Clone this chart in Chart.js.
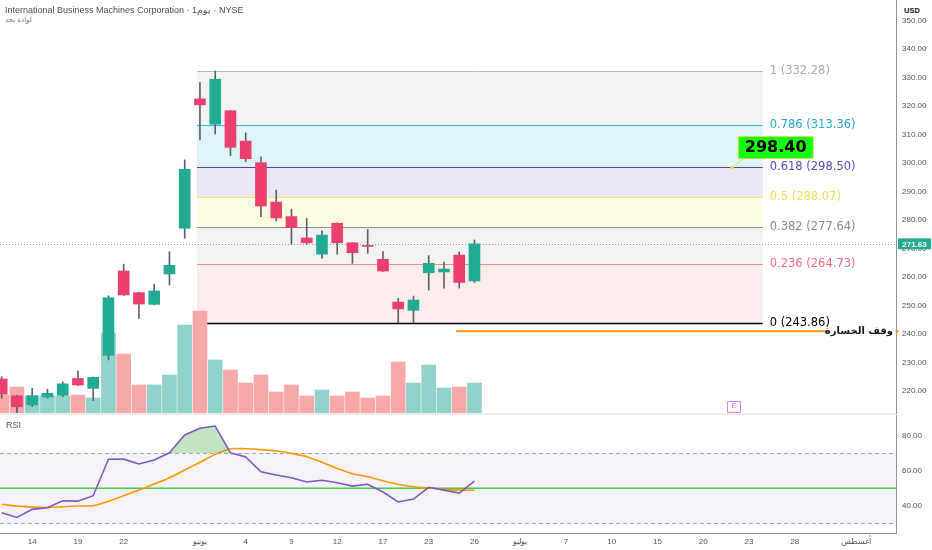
<!DOCTYPE html>
<html>
<head>
<meta charset="utf-8">
<script src="https://cdn.jsdelivr.net/npm/chart.js@4.4.1/dist/chart.umd.min.js"></script>
<style>
  body { margin: 0; background: #fff; font-family: "Liberation Sans", Arial, sans-serif; }
  #wrap { position: relative; width: 932px; height: 550px; overflow: hidden; }
  #main { position: absolute; left: 0; top: 0; }
  #rsi { position: absolute; left: 0; top: 415px; }
  .title { position: absolute; left: 5px; top: 5px; font-size: 9px; color: #4a4e5a; white-space: nowrap; }
  .sub { position: absolute; left: 5px; top: 16px; font-size: 7px; color: #777; font-family: "DejaVu Sans"; }
  .usd { position: absolute; left: 897px; top: 0; width: 35px; height: 18px; background: #fff; font-size: 7.5px; font-weight: bold; color: #131722; line-height: 22px; padding-left: 7px; box-sizing: border-box; }
  .sep { position: absolute; left: 0; top: 413px; width: 896px; height: 2px; background: #eceef2; }
  .rsiLabel { position: absolute; left: 6px; top: 420px; font-size: 9px; color: #555; }
</style>
</head>
<body>
<div id="wrap">
  <canvas id="main" width="932" height="414"></canvas>
  <canvas id="rsi" width="932" height="135"></canvas>
  <div class="sep"></div>
  <div class="title">International Business Machines Corporation · 1يوم · NYSE</div>
  <div class="sub">لوادة يجد</div>
  <div class="usd">USD</div>
  <div class="rsiLabel">RSI</div>
</div>
<script>
// daily candles, index 0 = first visible bar
const opens  = [224.2, 218.3, 215.1, 217.9, 218.5, 224.4, 220.9, 232.5, 262.1, 254.5, 250.4, 261.05, 277.1, 322.5, 313.6, 318.35,
                307.7, 300.1, 286.3, 281.2, 273.7, 268.0, 278.85, 272.0, 270.9, 266.2, 251.2, 248.3, 261.5, 261.75, 267.7, 258.6];
const highs  = [225.0, 218.6, 220.9, 220.6, 223.2, 227.1, 224.9, 253.4, 264.5, 254.6, 257.5, 268.9, 301.1, 328.2, 332.28, 318.4,
                310.6, 302.2, 290.5, 283.8, 280.5, 276.2, 279.0, 272.1, 276.7, 268.9, 252.5, 253.3, 267.5, 265.2, 268.8, 273.0];
const lows   = [217.5, 212.3, 214.5, 217.5, 218.0, 222.0, 216.6, 230.9, 253.5, 245.5, 250.3, 257.2, 273.6, 308.1, 310.2, 302.6,
                300.5, 281.2, 279.7, 271.5, 271.5, 266.6, 268.0, 264.8, 268.3, 262.0, 243.86, 243.9, 255.4, 256.1, 256.1, 258.1];
const closes = [218.9, 214.5, 218.35, 219.2, 222.5, 222.1, 224.8, 252.7, 253.7, 250.5, 255.1, 264.1, 297.8, 320.4, 329.4, 305.5,
                301.5, 284.9, 280.7, 277.3, 272.0, 274.7, 272.0, 268.5, 270.7, 262.1, 248.8, 251.9, 264.8, 262.8, 258.1, 271.63];
const volumes = [1.9, 2.7, 1.8, 1.8, 1.8, 1.9, 1.6, 8.1, 6.0, 2.9, 2.9, 3.9, 8.9, 10.3, 5.4, 4.4,
                 3.1, 3.9, 2.2, 2.9, 1.8, 2.4, 1.8, 2.2, 1.6, 1.8, 5.2, 3.1, 4.9, 2.6, 2.7, 3.1];
const rsi   = [36.1, 33.4, 38.0, 38.9, 42.9, 42.7, 45.8, 66.6, 66.7, 63.9, 66.2, 70.3, 80.5, 84.3, 85.6, 70.3,
               67.9, 59.5, 57.6, 56.1, 53.6, 54.6, 53.2, 51.3, 52.3, 47.9, 42.2, 43.9, 50.6, 49.0, 47.3, 54.2];
const rsiMa = [40.9, 39.9, 39.3, 39.1, 39.5, 39.9, 40.1, 42.6, 45.8, 49.0, 52.5, 56.1, 60.5, 64.9, 69.4, 72.6,
               72.6, 72.1, 71.3, 70.0, 68.1, 64.9, 61.4, 58.3, 56.6, 54.3, 52.3, 50.9, 50.2, 49.4, 49.0, 48.9];

// fibonacci retracement
const fibRatios = [1, 0.786, 0.618, 0.5, 0.382, 0.236, 0];
const fibPrices = [332.28, 313.36, 298.50, 288.07, 277.64, 264.73, 243.86];
const fibFrom = 12.8, fibTo = 49.9;
const stopLoss = 241.0, stopFrom = 29.8, stopTo = 54.3;
const stopText = 'وقف الخسارة';
const calloutPrice = 298.40, calloutIdx = 47.9;
const earningsIdx = 48;

// bottom axis
const dateTickIdx = [2, 5, 8, 13, 16, 19, 22, 25, 28, 31, 34, 37, 40, 43, 46, 49, 52, 56];
const dateTickLabels = ['14', '19', '22', 'يونيو', '4', '9', '12', '17', '23', '26', 'يوليو', '7', '10', '15', '20', '23', '28', 'أغسطس'];

const rsiUpper = 70, rsiMid = 50, rsiLower = 30;

const up = '#22ab94', down = '#eb3f6e';
const fibFills = ['#f3f3f3', '#def4f9', '#ece7f6', '#fffce4', '#f2f2f2', '#fdecec'];
const fibLines = ['#b8b8b8', '#2fbcd6', '#5e3fa6', '#f3e66a', '#8d8d8d', '#f08c8c', '#000000'];
const fibText  = ['#ababab', '#27a9cc', '#6147b3', '#f0df55', '#8a8a8a', '#f06c7c', '#000000'];

const xMin = -0.111, xMax = 58.64;
const idx = opens.map((_, i) => i);
const tickFont = { size: 8, family: 'Liberation Sans' };

const mainOverlay = {
    id: 'mainOverlay',
    beforeDatasetsDraw(chart) {
        const { ctx, scales: { x, y }, chartArea } = chart;
        const xl = x.getPixelForValue(fibFrom), xr = x.getPixelForValue(fibTo);
        ctx.save();
        for (let k = 0; k < fibPrices.length - 1; k++) {
            const y1 = y.getPixelForValue(fibPrices[k]), y2 = y.getPixelForValue(fibPrices[k + 1]);
            ctx.fillStyle = fibFills[k];
            ctx.fillRect(xl, y1, xr - xl, y2 - y1);
        }
        ctx.font = '11.5px "DejaVu Sans"';
        ctx.textBaseline = 'middle';
        ctx.textAlign = 'left';
        fibPrices.forEach((p, k) => {
            const py = Math.round(y.getPixelForValue(p)) + 0.5;
            ctx.strokeStyle = fibLines[k];
            ctx.lineWidth = k === fibPrices.length - 1 ? 1.5 : 1;
            ctx.beginPath(); ctx.moveTo(xl, py); ctx.lineTo(xr, py); ctx.stroke();
            ctx.fillStyle = fibText[k];
            ctx.fillText(`${fibRatios[k]} (${p.toFixed(2)})`, xr + 7, py);
        });

        // last price
        const lp = Math.round(y.getPixelForValue(closes[closes.length - 1])) + 0.5;
        ctx.strokeStyle = '#9598a1';
        ctx.lineWidth = 1;
        ctx.setLineDash([1, 2]);
        ctx.beginPath(); ctx.moveTo(chartArea.left, lp); ctx.lineTo(chartArea.right, lp); ctx.stroke();
        ctx.setLineDash([]);

        // stop loss
        const sy = y.getPixelForValue(stopLoss);
        ctx.strokeStyle = '#ff9800';
        ctx.lineWidth = 2;
        ctx.beginPath(); ctx.moveTo(x.getPixelForValue(stopFrom), sy); ctx.lineTo(x.getPixelForValue(stopTo), sy); ctx.stroke();
        ctx.fillStyle = '#131722';
        ctx.font = 'bold 10px "DejaVu Sans"';
        ctx.textAlign = 'right';
        ctx.fillText(stopText, chartArea.right - 3, sy);
        ctx.restore();
    },
    afterDraw(chart) {
        const { ctx, scales: { x, y }, chartArea } = chart;
        ctx.save();
        // price tag on axis
        const last = closes[closes.length - 1];
        const lp = y.getPixelForValue(last);
        ctx.fillStyle = up;
        ctx.fillRect(chartArea.right + 2, lp - 5.5, 33, 11);
        ctx.fillStyle = '#fff';
        ctx.font = 'bold 8px "Liberation Sans"';
        ctx.textAlign = 'center';
        ctx.textBaseline = 'middle';
        ctx.fillText(last.toFixed(2), chartArea.right + 18.5, lp + 0.5);

        // stop marker on axis
        ctx.fillStyle = '#ff9800';
        ctx.beginPath(); ctx.arc(chartArea.right + 1, y.getPixelForValue(stopLoss), 1.5, 0, Math.PI * 2); ctx.fill();

        // price callout
        const ax = x.getPixelForValue(calloutIdx), ay = y.getPixelForValue(calloutPrice);
        ctx.strokeStyle = '#e3dc4c';
        ctx.lineWidth = 1;
        ctx.beginPath(); ctx.moveTo(ax, ay); ctx.lineTo(ax + 11, ay - 9); ctx.stroke();
        ctx.fillStyle = '#e3dc4c';
        ctx.beginPath(); ctx.arc(ax, ay, 1.8, 0, Math.PI * 2); ctx.fill();
        ctx.fillStyle = '#14ff14';
        ctx.strokeStyle = '#cfe34a';
        ctx.beginPath(); ctx.rect(ax + 6, ay - 31, 75, 22); ctx.fill(); ctx.stroke();
        ctx.fillStyle = '#000';
        ctx.font = 'bold 16px "DejaVu Sans"';
        ctx.fillText(calloutPrice.toFixed(2), ax + 43.5, ay - 19.5);

        // earnings marker
        const ex = x.getPixelForValue(earningsIdx), ey = chartArea.bottom - 8;
        ctx.fillStyle = '#fff';
        ctx.strokeStyle = '#d884ee';
        ctx.beginPath(); ctx.rect(Math.round(ex - 7) + 0.5, Math.round(ey - 5.5) + 0.5, 13, 11); ctx.fill(); ctx.stroke();
        ctx.fillStyle = '#c96fe3';
        ctx.font = '7px "Liberation Sans"';
        ctx.fillText('E', ex, ey + 0.5);
        ctx.restore();
    }
};

new Chart(document.getElementById('main'), {
    type: 'bar',
    data: {
        datasets: [{
            label: 'body',
            data: idx.map(i => ({ x: i, y: [opens[i], closes[i]] })),
            backgroundColor: idx.map(i => closes[i] >= opens[i] ? up : down),
            barThickness: 11,
            minBarLength: 1,
            grouped: false,
            order: 1,
            yAxisID: 'y',
        }, {
            label: 'wick',
            data: idx.map(i => ({ x: i, y: [lows[i], highs[i]] })),
            backgroundColor: '#5d606b',
            barThickness: 1,
            grouped: false,
            order: 2,
            yAxisID: 'y',
        }, {
            label: 'volume',
            data: idx.map(i => ({ x: i, y: volumes[i] })),
            backgroundColor: idx.map(i => closes[i] >= opens[i] ? '#92d2cc' : '#f7a9a8'),
            barThickness: 14,
            grouped: false,
            order: 3,
            yAxisID: 'vol',
        }]
    },
    options: {
        responsive: false,
        animation: false,
        layout: { padding: 0 },
        plugins: {
            legend: { display: false },
            tooltip: { enabled: false },
        },
        scales: {
            x: { type: 'linear', min: xMin, max: xMax, offset: false, display: false },
            y: {
                position: 'right',
                min: 211.93,
                max: 357.19,
                grid: { display: false, drawTicks: false },
                border: { color: '#8f929c' },
                ticks: {
                    stepSize: 10,
                    includeBounds: false,
                    padding: 6,
                    color: '#4f525c',
                    font: tickFont,
                    callback: v => v.toFixed(2),
                },
                afterFit: s => { s.width = 36; s.paddingTop = 0; s.paddingBottom = 0; },
            },
            vol: { display: false, min: 0, max: 41.4 },
        }
    },
    plugins: [mainOverlay]
});

const rsiOverlay = {
    id: 'rsiOverlay',
    beforeDatasetsDraw(chart) {
        const { ctx, scales: { y }, chartArea: { left, right } } = chart;
        const yU = Math.round(y.getPixelForValue(rsiUpper)) + 0.5;
        const yL = Math.round(y.getPixelForValue(rsiLower)) + 0.5;
        const yM = y.getPixelForValue(rsiMid);
        ctx.save();
        ctx.fillStyle = 'rgba(126, 87, 194, 0.08)';
        ctx.fillRect(left, yU, right - left, yL - yU);
        ctx.strokeStyle = '#a3a6af';
        ctx.lineWidth = 1;
        ctx.setLineDash([4, 3]);
        [yU, yL].forEach(py => { ctx.beginPath(); ctx.moveTo(left, py); ctx.lineTo(right, py); ctx.stroke(); });
        ctx.setLineDash([]);
        ctx.strokeStyle = '#3fcf3f';
        ctx.lineWidth = 1.5;
        ctx.beginPath(); ctx.moveTo(left, yM); ctx.lineTo(right, yM); ctx.stroke();
        ctx.restore();
    }
};

new Chart(document.getElementById('rsi'), {
    type: 'line',
    data: {
        datasets: [{
            label: 'RSI',
            data: idx.map(i => ({ x: i, y: rsi[i] })),
            borderColor: '#7e57c2',
            borderWidth: 1.6,
            pointRadius: 0,
            tension: 0,
            fill: { target: { value: rsiUpper }, above: 'rgba(76, 175, 80, 0.35)', below: 'rgba(0, 0, 0, 0)' },
        }, {
            label: 'RSI MA',
            data: idx.map(i => ({ x: i, y: rsiMa[i] })),
            borderColor: '#ff9800',
            borderWidth: 1.6,
            pointRadius: 0,
            tension: 0.3,
            fill: false,
        }]
    },
    options: {
        responsive: false,
        animation: false,
        layout: { padding: 0 },
        plugins: {
            legend: { display: false },
            tooltip: { enabled: false },
        },
        scales: {
            x: {
                type: 'linear',
                min: xMin,
                max: xMax,
                offset: false,
                grid: { display: false, drawTicks: false },
                border: { color: '#8f929c' },
                afterBuildTicks: s => { s.ticks = dateTickIdx.map(v => ({ value: v })); },
                afterFit: s => { s.height = 17; s.paddingLeft = 0; s.paddingRight = 0; },
                ticks: {
                    autoSkip: false,
                    maxRotation: 0,
                    minRotation: 0,
                    padding: 4,
                    color: '#4f525c',
                    font: tickFont,
                    callback: v => dateTickLabels[dateTickIdx.indexOf(v)],
                },
            },
            y: {
                position: 'right',
                min: 24.5,
                max: 91.9,
                grid: { display: false, drawTicks: false },
                border: { color: '#8f929c' },
                ticks: {
                    stepSize: 20,
                    includeBounds: false,
                    padding: 6,
                    color: '#4f525c',
                    font: tickFont,
                    callback: v => v.toFixed(2),
                },
                afterFit: s => { s.width = 36; s.paddingTop = 0; s.paddingBottom = 0; },
            },
        }
    },
    plugins: [rsiOverlay]
});
</script>
</body>
</html>
